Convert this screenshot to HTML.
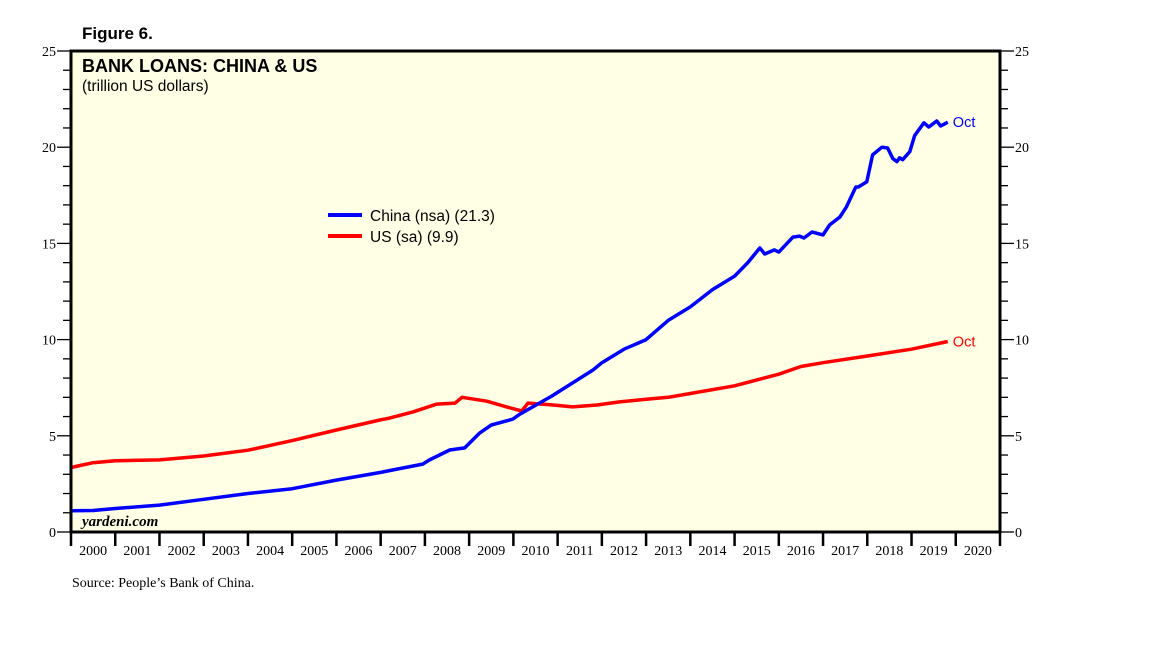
<!DOCTYPE html>
<html><head><meta charset="utf-8"><style>
body{margin:0;background:#fff;width:1152px;height:648px;overflow:hidden}
svg text{font-family:"Liberation Sans",sans-serif}
.ser{font-family:"Liberation Serif",serif}
</style></head><body>
<svg id="c" width="1152" height="648">
<text x="82" y="39" font-size="17" font-weight="bold">Figure 6.</text>
<rect x="71" y="51" width="929" height="481" fill="#ffffe6"/>
<g id="axes"></g>
<g id="series"></g>
<rect x="71" y="51" width="929" height="481" fill="none" stroke="#000" stroke-width="3"/>
<text x="82" y="72" font-size="18" font-weight="bold">BANK LOANS: CHINA &amp; US</text>
<text x="82" y="91" font-size="15.5">(trillion US dollars)</text>
<line x1="328" y1="215" x2="362" y2="215" stroke="#00f" stroke-width="4"/>
<text x="370" y="221" font-size="15.5">China (nsa) (21.3)</text>
<line x1="328" y1="236" x2="362" y2="236" stroke="#f00" stroke-width="4"/>
<text x="370" y="242" font-size="15.5">US (sa) (9.9)</text>
<text x="82" y="526" class="ser" font-size="15" font-style="italic" font-weight="bold">yardeni.com</text>
<text x="72" y="587" class="ser" font-size="14">Source: People’s Bank of China.</text>
</svg>
<script>
const years=[2000,2001,2002,2003,2004,2005,2006,2007,2008,2009,2010,2011,2012,2013,2014,2015,2016,2017,2018,2019,2020];
const yTicks=[0,5,10,15,20,25];
const chinaT=[2000,2000.5,2001,2002,2003,2004,2005,2006,2007,2007.37,2007.95,2008.1,2008.56,2008.9,2009.24,2009.5,2009.99,2010.15,2010.87,2011.8,2012,2012.5,2013,2013.5,2014,2014.5,2015,2015.3,2015.57,2015.68,2015.9,2016.0,2016.32,2016.47,2016.57,2016.75,2017.0,2017.15,2017.38,2017.53,2017.74,2017.8,2017.99,2018.12,2018.33,2018.46,2018.58,2018.67,2018.73,2018.8,2018.96,2019.07,2019.28,2019.39,2019.57,2019.66,2019.82];
const chinaV=[1.1,1.12,1.22,1.4,1.7,2.0,2.25,2.7,3.1,3.27,3.53,3.74,4.26,4.37,5.15,5.56,5.87,6.13,7.07,8.42,8.8,9.5,10.0,11.0,11.7,12.6,13.3,14.0,14.76,14.45,14.66,14.55,15.33,15.38,15.28,15.59,15.44,15.96,16.37,16.9,17.93,17.93,18.2,19.6,20.0,19.96,19.4,19.25,19.45,19.35,19.77,20.6,21.27,21.05,21.36,21.1,21.3];
const usT=[2000,2000.5,2001,2002,2003,2004,2005,2006,2006.98,2007.2,2007.73,2008.27,2008.68,2008.84,2009.4,2009.85,2010.19,2010.33,2010.9,2011.34,2011.89,2012.4,2013,2013.5,2014,2015,2016,2016.5,2017,2018,2019,2019.82];
const usV=[3.35,3.6,3.7,3.75,3.95,4.25,4.75,5.3,5.82,5.92,6.24,6.65,6.7,7.0,6.8,6.5,6.29,6.7,6.6,6.5,6.6,6.76,6.9,7.0,7.2,7.6,8.2,8.6,8.8,9.15,9.5,9.9];
const X0=71,X1=1000,Y0=532,Y1=51;
const xs=t=>X0+(t-2000)/21*(X1-X0);
const ys=v=>Y0-v/25*(Y0-Y1);
const NS='http://www.w3.org/2000/svg';
const ax=document.getElementById('axes'),se=document.getElementById('series');
function mk(tag,at,p){const e=document.createElementNS(NS,tag);for(const k in at)e.setAttribute(k,at[k]);p.appendChild(e);return e;}
for(let v=0;v<=25;v++){
 const y=ys(v),big=v%5===0;
 const t1=mk('line',{x1:X0-(big?14:8),x2:X0,y1:y,y2:y,stroke:'#000','stroke-width':1.3},ax);
 
 
 const t2=mk('line',{x1:X1,x2:X1+(big?14:8),y1:y,y2:y,stroke:'#000','stroke-width':1.3},ax);
 
 
}
yTicks.forEach(v=>{
 const a=mk('text',{x:X0-15,y:ys(v)+5,'text-anchor':'end','font-size':14,class:'ser'},ax);a.textContent=v;
 
 
 const b=mk('text',{x:X1+15,y:ys(v)+5,'font-size':14,class:'ser'},ax);b.textContent=v;
 
 
});
for(let i=0;i<=years.length;i++){
 const x=xs(2000+i);
 const l=mk('line',{x1:x,x2:x,y1:Y0,y2:Y0+14,stroke:'#000','stroke-width':2.5},ax);
 
 
}
years.forEach(yr=>{
 const t=mk('text',{x:xs(yr+0.5),y:Y0+23,'text-anchor':'middle','font-size':14,class:'ser'},ax);t.textContent=yr;
 
 
});
function line(T,V,col,name){
 const p=mk('polyline',{points:T.map((t,i)=>xs(t).toFixed(1)+','+ys(V[i]).toFixed(1)).join(' '),fill:'none',stroke:col,'stroke-width':3.5,'stroke-linejoin':'round'},se);
 
 
 const L=T.length-1;
 const t=mk('text',{x:xs(T[L])+5,y:ys(V[L])+5,fill:col,'font-size':14.5},se);t.textContent='Oct';
 
 
}
line(usT,usV,'#f00','us-line');
line(chinaT,chinaV,'#00f','china-line');
</script>
</body></html>
